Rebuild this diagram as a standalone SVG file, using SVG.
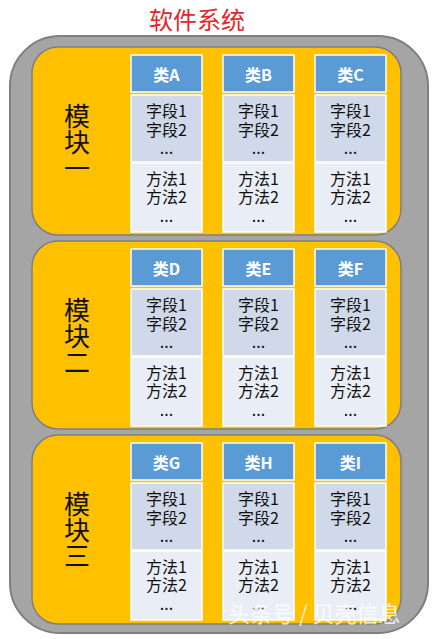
<svg xmlns="http://www.w3.org/2000/svg" width="435" height="639" viewBox="0 0 435 639">
<style>
text{font-family:"Microsoft YaHei","Noto Sans CJK SC","Noto Sans",sans-serif;}
.outer{fill:#A5A5A5;stroke:#7F7F7F;stroke-width:2}
.panel{fill:#FFC000;stroke:#7F7F7F;stroke-width:1.5}
.hdr{fill:#5B9BD5;stroke:#FFFFFF;stroke-width:1.5}
.fld{fill:#CFD9EA;stroke:#FFFFFF;stroke-width:1.5}
.mth{fill:#E9EEF6;stroke:#FFFFFF;stroke-width:1.5}
.ht{fill:#FFFFFF;font-size:16px;font-weight:bold;text-anchor:middle;dominant-baseline:central}
.bt{fill:#111111;font-size:16px;text-anchor:middle;dominant-baseline:central}
.ml{fill:#111111;font-size:26px;text-anchor:middle;writing-mode:vertical-rl}
.title{fill:#E3262B;font-size:24px;text-anchor:middle;dominant-baseline:central}
.wm{fill:#FFFFFF;fill-opacity:0.8;font-size:22px;dominant-baseline:central}
</style>
<defs>
<g id="cls">
<rect class="hdr" x="0" y="8" width="71" height="37"/>
<rect class="fld" x="0" y="48" width="71" height="67"/>
<rect class="mth" x="0" y="116" width="71" height="69"/>
<text class="bt" x="35.5" y="63">字段1</text>
<text class="bt" x="35.5" y="82">字段2</text>
<text class="bt" x="35.5" y="100">...</text>
<text class="bt" x="35.5" y="131">方法1</text>
<text class="bt" x="35.5" y="149">方法2</text>
<text class="bt" x="35.5" y="168">...</text>
</g>
</defs>
<text class="title" x="197" y="18">软件系统</text>
<rect class="outer" x="10" y="36" width="418" height="597" rx="50" ry="50"/>
<g id="module1" transform="translate(0,47)">
<rect class="panel" x="32" y="0" width="369" height="188" rx="26" ry="26"/>
<text class="ml" x="77" y="95">模块一</text>
<g id="classA"><use href="#cls" x="131"/><text class="ht" x="166.5" y="27">类A</text></g>
<g id="classB"><use href="#cls" x="223"/><text class="ht" x="258.5" y="27">类B</text></g>
<g id="classC"><use href="#cls" x="315"/><text class="ht" x="350.5" y="27">类C</text></g>
</g>
<g id="module2" transform="translate(0,241)">
<rect class="panel" x="32" y="0" width="369" height="188" rx="26" ry="26"/>
<text class="ml" x="77" y="95">模块二</text>
<g id="classD"><use href="#cls" x="131"/><text class="ht" x="166.5" y="27">类D</text></g>
<g id="classE"><use href="#cls" x="223"/><text class="ht" x="258.5" y="27">类E</text></g>
<g id="classF"><use href="#cls" x="315"/><text class="ht" x="350.5" y="27">类F</text></g>
</g>
<g id="module3" transform="translate(0,435)">
<rect class="panel" x="32" y="0" width="369" height="189" rx="26" ry="26"/>
<text class="ml" x="77" y="95">模块三</text>
<g id="classG"><use href="#cls" x="131"/><text class="ht" x="166.5" y="27">类G</text></g>
<g id="classH"><use href="#cls" x="223"/><text class="ht" x="258.5" y="27">类H</text></g>
<g id="classI"><use href="#cls" x="315"/><text class="ht" x="350.5" y="27">类I</text></g>
</g>
<g id="connectors"/>
<text class="wm" x="228" y="612">头条号 / 贝壳信息</text>
</svg>
